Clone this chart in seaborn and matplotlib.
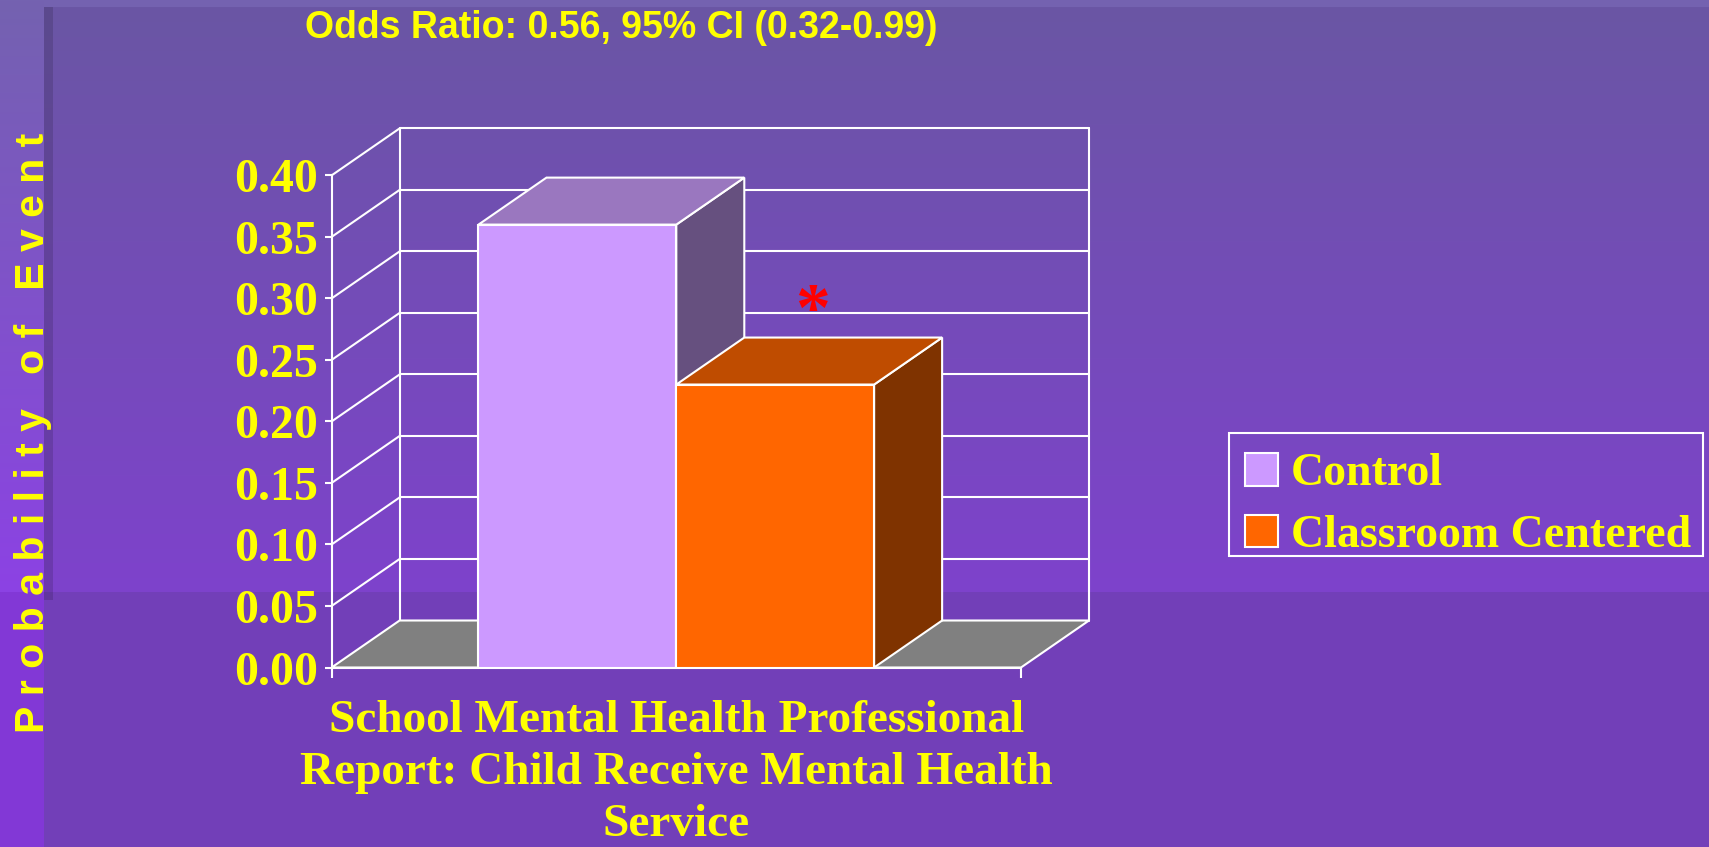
import textwrap
import numpy as np
import pandas as pd
import matplotlib
matplotlib.use("Agg")
import matplotlib.pyplot as plt
from matplotlib.patches import Polygon, Patch, Rectangle
import seaborn as sns

# ---------------- data ----------------
category = "School Mental Health Professional Report: Child Receive Mental Health Service"
groups = ["Control", "Classroom Centered"]
probabilities = [0.36, 0.23]
y_ticks = [0.00, 0.05, 0.10, 0.15, 0.20, 0.25, 0.30, 0.35, 0.40]
title_text = "Odds Ratio: 0.56, 95% CI (0.32-0.99)"
y_label = "Probability of Event"
significant_group = "Classroom Centered"

# ---------------- style ----------------
front_colors = ["#CC99FF", "#FF6600"]
top_colors = ["#9A77BF", "#BF4C00"]
side_colors = ["#66507F", "#7F3300"]
YELLOW = "#FFFF00"
SERIF = ["Liberation Serif", "DejaVu Serif"]
SANS = ["Liberation Sans", "DejaVu Sans"]
NARROW = ["Liberation Sans Narrow", "Liberation Sans", "DejaVu Sans"]

sns.set_theme(style="ticks")
plt.rcParams["font.family"] = SERIF
plt.rcParams["font.weight"] = "bold"

W, H, DPI = 1709, 847, 100
fig = plt.figure(figsize=(W / DPI, H / DPI), dpi=DPI)

# ---------------- background (slide decoration) ----------------
def hexrgb(h):
    h = h.lstrip("#")
    return np.array([int(h[i:i + 2], 16) for i in (0, 2, 4)], dtype=float) / 255.0

img = np.zeros((H, W, 3))
yy = np.arange(H)[:, None]
split = 592
t_main = np.clip((yy - 7) / (split - 7), 0, 1)
main = hexrgb("#6A56A4") * (1 - t_main) + hexrgb("#7E42CC") * t_main
img[:, :, :] = main[:, None, :]
img[:7, :, :] = hexrgb("#7462B0")
img[split:, :, :] = hexrgb("#723FB8")
t_left = np.clip(np.arange(H) / split, 0, 1)[:, None]
left = hexrgb("#7462B0") * (1 - t_left) + hexrgb("#8C42E4") * t_left
img[:split, :44, :] = left[:split, None, :]
img[split:, :44, :] = hexrgb("#8238D6")
img[7:600, 44:53, :] *= 0.86

bg = fig.add_axes([0, 0, 1, 1], zorder=0)
bg.imshow(img, aspect="auto", interpolation="bilinear")
bg.set_axis_off()

# ---------------- main axes ----------------
ax = fig.add_axes([331.6 / W, (H - 667.5) / H, 689.4 / W, 492.1 / H], zorder=1)
ax.set_facecolor("none")

df = pd.DataFrame({"category": [category] * len(groups),
                   "group": groups,
                   "p": probabilities})
sns.barplot(data=df, x="category", y="p", hue="group", hue_order=groups,
            palette=front_colors, saturation=1, width=0.8, errorbar=None,
            edgecolor="white", linewidth=1.5, legend=False, ax=ax)
bars = list(ax.patches)

ax.set_xlim(-0.697, 0.697)
ax.set_ylim(y_ticks[0], y_ticks[-1])

# depth of the pseudo-3D extrusion (pixels -> data units)
DEPTH_PX = np.array([68.0, 47.0])
inv = ax.transData.inverted()
o = ax.transData.transform((0, 0))
dx, dy = inv.transform(o + DEPTH_PX)

x0, x1 = ax.get_xlim()
line_kw = dict(color="white", lw=1.5, zorder=1, clip_on=False)
for t in y_ticks[1:]:
    ax.plot([x0 + dx, x1 + dx], [t + dy, t + dy], **line_kw)
    ax.plot([x0, x0 + dx], [t, t + dy], **line_kw)
ax.plot([x0 + dx, x0 + dx], [dy, y_ticks[-1] + dy], **line_kw)
ax.plot([x1 + dx, x1 + dx], [dy, y_ticks[-1] + dy], **line_kw)
ax.add_patch(Polygon([(x0, 0), (x1, 0), (x1 + dx, dy), (x0 + dx, dy)], closed=True,
                     fc="#808080", ec="white", lw=1.5, zorder=2, clip_on=False))

for i, r in enumerate(bars):
    bx0, bw, h = r.get_x(), r.get_width(), r.get_height()
    bx1 = bx0 + bw
    z = 3 + i
    r.set_zorder(z + 0.2)
    ax.add_patch(Polygon([(bx0, h), (bx1, h), (bx1 + dx, h + dy), (bx0 + dx, h + dy)],
                         closed=True, fc=top_colors[i], ec="white", lw=1.5,
                         zorder=z + 0.1, clip_on=False))
    ax.add_patch(Polygon([(bx1, 0), (bx1 + dx, dy), (bx1 + dx, h + dy), (bx1, h)],
                         closed=True, fc=side_colors[i], ec="white", lw=1.5,
                         zorder=z, clip_on=False))

# significance star
sig = bars[groups.index(significant_group)]
ax.annotate("*", xy=(sig.get_x() + sig.get_width() / 2, sig.get_height()),
            xytext=(37, 54), textcoords="offset pixels", ha="center", va="baseline",
            color="red", fontsize=50, fontweight="bold", family=SERIF, zorder=8,
            annotation_clip=False)

# spines / ticks
for s in ("top", "right"):
    ax.spines[s].set_visible(False)
for s in ("left", "bottom"):
    ax.spines[s].set_color("white")
    ax.spines[s].set_linewidth(1.5)
    ax.spines[s].set_zorder(2.5)

ax.set_yticks(y_ticks)
ax.set_yticklabels([f"{t:.2f}" for t in y_ticks])
ax.tick_params(axis="y", colors="white", labelcolor=YELLOW, length=5, width=1.5,
               pad=4.5, labelsize=34.5)
ax.set_xticks([0], [textwrap.fill(category, 35)])
ax.set_xticks([x0, x1], minor=True)
ax.tick_params(axis="x", which="major", length=0, pad=23.5, labelsize=34, labelcolor=YELLOW)
ax.tick_params(axis="x", which="minor", length=7, width=1.5, color="white")
for lbl in ax.get_xticklabels():
    lbl.set_linespacing(1.31)
ax.set_xlim(x0, x1)
ax.set_xlabel("")
ax.set_ylabel("")

# y-axis title (letter-spaced, as on the slide)
spaced = "   ".join(" ".join(w) for w in y_label.split())
fig.text(33 / W, 1 - 433 / H, spaced, rotation=90, ha="center", va="center",
         family=SANS, fontweight="bold", fontsize=29.5, color=YELLOW)

# title
fig.text(621 / W, 1 - 38 / H, title_text, ha="center", va="baseline",
         family=NARROW, fontweight="bold", fontsize=27, color=YELLOW)

# legend (entries) + its box
handles = [Patch(fc=c, ec="white", lw=1.5) for c in front_colors]
leg = fig.legend(handles, groups, loc="center left",
                 bbox_to_anchor=(1245 / W, 1 - 505 / H), frameon=False,
                 prop=dict(family=SERIF, weight="bold", size=33), labelcolor=YELLOW,
                 handlelength=0.72, handleheight=0.72, handletextpad=0.28,
                 labelspacing=0.42, borderpad=0, borderaxespad=0)
leg.set_zorder(5)
fig.add_artist(Rectangle((1229 / W, 1 - 556 / H), (1703 - 1229) / W, (556 - 433) / H,
                         transform=fig.transFigure, fill=False, ec="white", lw=1.5,
                         zorder=5))

fig.savefig("out.png", dpi=DPI)
